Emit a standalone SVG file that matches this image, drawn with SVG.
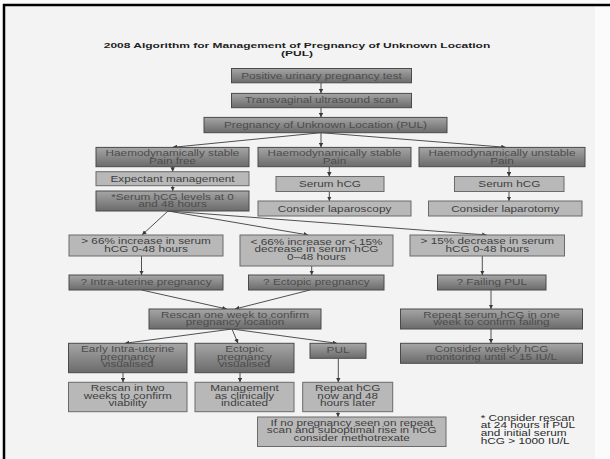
<svg xmlns="http://www.w3.org/2000/svg" width="610" height="459" viewBox="0 0 610 459">
<defs>
<linearGradient id="dg" x1="0" y1="0" x2="0" y2="1">
<stop offset="0" stop-color="#a6a6a6"/>
<stop offset="0.45" stop-color="#8b8b8b"/>
<stop offset="1" stop-color="#6b6b6b"/>
</linearGradient>
<marker id="ah" viewBox="0 0 6 6" refX="6" refY="3" markerWidth="4.5" markerHeight="4.5" markerUnits="userSpaceOnUse" orient="auto">
<path d="M0,0 L6,3 L0,6 z" fill="#3a3a3a"/>
</marker>
<style>
.d{fill:url(#dg);stroke:#4a4a4a;stroke-width:1}
.l{fill:#b8b8b8;stroke:#6a6a6a;stroke-width:1}
.t{font-family:"Liberation Sans",Arial,sans-serif;font-size:8.4px;text-anchor:middle;fill:#3e3e3e}
.td{fill:#4c4c4c}
.ti{font-family:"Liberation Sans",Arial,sans-serif;font-size:8px;font-weight:bold;text-anchor:middle;fill:#1e1e1e}
.fn{font-family:"Liberation Sans",Arial,sans-serif;font-size:8.2px;fill:#2a2a2a}
.c{stroke:#505050;stroke-width:1;fill:none;marker-end:url(#ah)}
</style>
</defs>
<rect width="610" height="459" fill="#fbfbfb"/>
<rect x="4" y="5" width="591" height="454" fill="#f3f3f3"/>
<line x1="3" y1="5" x2="610" y2="5" stroke="#000" stroke-width="2.5"/>
<line x1="4" y1="4" x2="4" y2="459" stroke="#000" stroke-width="2.5"/>

<g id="title">
<text class="ti" transform="translate(297,47.8) scale(1.5,1)">2008 Algorithm for Management of Pregnancy of Unknown Location</text>
<text class="ti" transform="translate(297,55.6) scale(1.5,1)">(PUL)</text>
</g>

<g id="connectors">
<line class="c" x1="321" y1="82.7" x2="321" y2="93.3"/>
<line class="c" x1="321" y1="107.7" x2="321" y2="117.3"/>
<line class="c" x1="321" y1="132.7" x2="172.7" y2="147.3"/>
<line class="c" x1="321" y1="132.7" x2="321" y2="147.3"/>
<line class="c" x1="321" y1="132.7" x2="505.7" y2="147.3"/>
<line class="c" x1="172.7" y1="166.7" x2="172.7" y2="171.7"/>
<line class="c" x1="172.7" y1="185.7" x2="172.7" y2="191"/>
<line class="c" x1="329.3" y1="166.7" x2="329.3" y2="176.5"/>
<line class="c" x1="329.3" y1="191.5" x2="329.3" y2="201"/>
<line class="c" x1="509" y1="166.7" x2="509" y2="176.5"/>
<line class="c" x1="509" y1="191.5" x2="509" y2="201"/>
<line class="c" x1="168" y1="211" x2="142" y2="235"/>
<line class="c" x1="168" y1="211" x2="308.3" y2="235"/>
<line class="c" x1="168" y1="211" x2="486.7" y2="235"/>
<line class="c" x1="141.5" y1="256" x2="141.5" y2="275"/>
<line class="c" x1="311.7" y1="266" x2="311.7" y2="275"/>
<line class="c" x1="482.3" y1="256" x2="482.3" y2="275"/>
<line class="c" x1="141.7" y1="290" x2="226.7" y2="309"/>
<line class="c" x1="310" y1="290" x2="235" y2="309"/>
<line class="c" x1="491" y1="290" x2="491" y2="309"/>
<line class="c" x1="491" y1="329" x2="491" y2="343.3"/>
<line class="c" x1="232" y1="329" x2="125" y2="343.3"/>
<line class="c" x1="232" y1="329" x2="238" y2="343.3"/>
<line class="c" x1="232" y1="329" x2="337" y2="343.3"/>
<line class="c" x1="123" y1="372.7" x2="123" y2="382.3"/>
<line class="c" x1="240" y1="372.7" x2="240" y2="382.3"/>
<line class="c" x1="338.3" y1="358.3" x2="338.3" y2="382.3"/>
<line class="c" x1="338" y1="411.7" x2="338" y2="417"/>
</g>

<g id="n1"><rect class="d" x="231.5" y="68.5" width="180" height="14.3"/>
<text class="t td" transform="translate(321.5,78.5) scale(1.4,1)">Positive urinary pregnancy test</text></g>
<g id="n2"><rect class="d" x="231.5" y="93.4" width="180" height="14.3"/>
<text class="t td" transform="translate(321.5,103.4) scale(1.4,1)">Transvaginal ultrasound scan</text></g>
<g id="n3"><rect class="d" x="204" y="117.4" width="243" height="15.3"/>
<text class="t td" transform="translate(325.5,127.9) scale(1.4,1)">Pregnancy of Unknown Location (PUL)</text></g>

<g id="n4"><rect class="d" x="96" y="147.4" width="153" height="19.3"/>
<text class="t td" transform="translate(172.5,156) scale(1.4,1)"><tspan x="0">Haemodynamically stable</tspan><tspan x="0" dy="7.6">Pain free</tspan></text></g>
<g id="n5"><rect class="d" x="258" y="147.4" width="153" height="19.3"/>
<text class="t td" transform="translate(334.5,156) scale(1.4,1)"><tspan x="0">Haemodynamically stable</tspan><tspan x="0" dy="7.6">Pain</tspan></text></g>
<g id="n6"><rect class="d" x="419" y="147.4" width="166" height="19.3"/>
<text class="t td" transform="translate(502,156) scale(1.4,1)"><tspan x="0">Haemodynamically unstable</tspan><tspan x="0" dy="7.6">Pain</tspan></text></g>

<g id="n7"><rect class="l" x="96" y="171.7" width="153" height="14"/>
<text class="t" transform="translate(172.5,181.5) scale(1.4,1)">Expectant management</text></g>
<g id="n8"><rect class="l" x="276" y="176.5" width="108" height="15"/>
<text class="t" transform="translate(330,187) scale(1.4,1)">Serum hCG</text></g>
<g id="n9"><rect class="l" x="454.5" y="176.5" width="109.5" height="15"/>
<text class="t" transform="translate(509.3,187) scale(1.4,1)">Serum hCG</text></g>

<g id="n10"><rect class="d" x="96" y="191" width="153" height="20"/>
<text class="t td" transform="translate(172.5,199.6) scale(1.4,1)"><tspan x="0">*Serum hCG levels at 0</tspan><tspan x="0" dy="7.7">and 48 hours</tspan></text></g>
<g id="n11"><rect class="l" x="258" y="201" width="153" height="15"/>
<text class="t" transform="translate(334.5,211.5) scale(1.4,1)">Consider laparoscopy</text></g>
<g id="n12"><rect class="l" x="428.5" y="201" width="153.5" height="15"/>
<text class="t" transform="translate(505.3,211.5) scale(1.4,1)">Consider laparotomy</text></g>

<g id="n13"><rect class="l" x="69" y="235" width="154" height="21"/>
<text class="t" transform="translate(146,243.8) scale(1.4,1)"><tspan x="0">&gt; 66% increase in serum</tspan><tspan x="0" dy="7.8">hCG 0-48 hours</tspan></text></g>
<g id="n14"><rect class="l" x="240" y="235" width="153" height="31"/>
<text class="t" transform="translate(316.5,244.6) scale(1.4,1)"><tspan x="0">&lt; 66% increase or &lt; 15%</tspan><tspan x="0" dy="7.6">decrease in serum hCG</tspan><tspan x="0" dy="7.6">0–48 hours</tspan></text></g>
<g id="n15"><rect class="l" x="410" y="235" width="154.5" height="21"/>
<text class="t" transform="translate(487.3,243.8) scale(1.4,1)"><tspan x="0">&gt; 15% decrease in serum</tspan><tspan x="0" dy="7.8">hCG 0-48 hours</tspan></text></g>

<g id="n16"><rect class="d" x="69" y="275" width="154" height="15"/>
<text class="t td" transform="translate(146,285.4) scale(1.4,1)">? Intra-uterine pregnancy</text></g>
<g id="n17"><rect class="d" x="248.5" y="275" width="135.5" height="15"/>
<text class="t td" transform="translate(316.3,285.4) scale(1.4,1)">? Ectopic pregnancy</text></g>
<g id="n18"><rect class="d" x="437.5" y="275" width="108.5" height="15"/>
<text class="t td" transform="translate(491.8,285.4) scale(1.4,1)">? Failing PUL</text></g>

<g id="n19"><rect class="d" x="149" y="309" width="172" height="20"/>
<text class="t td" transform="translate(235,317.8) scale(1.4,1)"><tspan x="0">Rescan one week to confirm</tspan><tspan x="0" dy="7.6">pregnancy location</tspan></text></g>
<g id="n20"><rect class="d" x="400.5" y="309" width="182" height="20"/>
<text class="t td" transform="translate(491.5,317.8) scale(1.4,1)"><tspan x="0">Repeat serum hCG in one</tspan><tspan x="0" dy="7.6">week to confirm failing</tspan></text></g>

<g id="n21"><rect class="d" x="68.5" y="343.3" width="118.5" height="29.4"/>
<text class="t td" transform="translate(127.7,352.2) scale(1.4,1)"><tspan x="0">Early Intra-uterine</tspan><tspan x="0" dy="7.5">pregnancy</tspan><tspan x="0" dy="7.5">visualised</tspan></text></g>
<g id="n22"><rect class="d" x="195" y="343.3" width="99" height="29.4"/>
<text class="t td" transform="translate(244.5,352.2) scale(1.4,1)"><tspan x="0">Ectopic</tspan><tspan x="0" dy="7.5">pregnancy</tspan><tspan x="0" dy="7.5">visualised</tspan></text></g>
<g id="n23"><rect class="d" x="310" y="343.3" width="56" height="15"/>
<text class="t td" transform="translate(338,353.4) scale(1.4,1)">PUL</text></g>
<g id="n24"><rect class="d" x="400.5" y="343.3" width="182" height="20"/>
<text class="t td" transform="translate(491.5,352.1) scale(1.4,1)"><tspan x="0">Consider weekly hCG</tspan><tspan x="0" dy="7.6">monitoring until &lt; 15 IU/L</tspan></text></g>

<g id="n25"><rect class="l" x="68.5" y="382.3" width="118.5" height="29.4"/>
<text class="t" transform="translate(127.7,391.2) scale(1.4,1)"><tspan x="0">Rescan in two</tspan><tspan x="0" dy="7.5">weeks to confirm</tspan><tspan x="0" dy="7.5">viability</tspan></text></g>
<g id="n26"><rect class="l" x="195" y="382.3" width="99" height="29.4"/>
<text class="t" transform="translate(244.5,391.2) scale(1.4,1)"><tspan x="0">Management</tspan><tspan x="0" dy="7.5">as clinically</tspan><tspan x="0" dy="7.5">indicated</tspan></text></g>
<g id="n27"><rect class="l" x="302.7" y="382.3" width="90" height="29.4"/>
<text class="t" transform="translate(347.7,391.2) scale(1.4,1)"><tspan x="0">Repeat hCG</tspan><tspan x="0" dy="7.5">now and 48</tspan><tspan x="0" dy="7.5">hours later</tspan></text></g>
<g id="n28"><rect class="l" x="257.5" y="417" width="188.5" height="29.5"/>
<text class="t" transform="translate(351.7,425.7) scale(1.4,1)"><tspan x="0">If no pregnancy seen on repeat</tspan><tspan x="0" dy="7.6">scan and suboptimal rise in hCG</tspan><tspan x="0" dy="7.6">consider methotrexate</tspan></text></g>

<g id="footnote">
<text class="fn" transform="translate(480.7,420.6) scale(1.44,1)"><tspan x="0">* Consider rescan</tspan><tspan x="0" dy="7.7">at 24 hours if PUL</tspan><tspan x="0" dy="7.7">and initial serum</tspan><tspan x="0" dy="7.7">hCG &gt; 1000 IU/L</tspan></text>
</g>
</svg>
